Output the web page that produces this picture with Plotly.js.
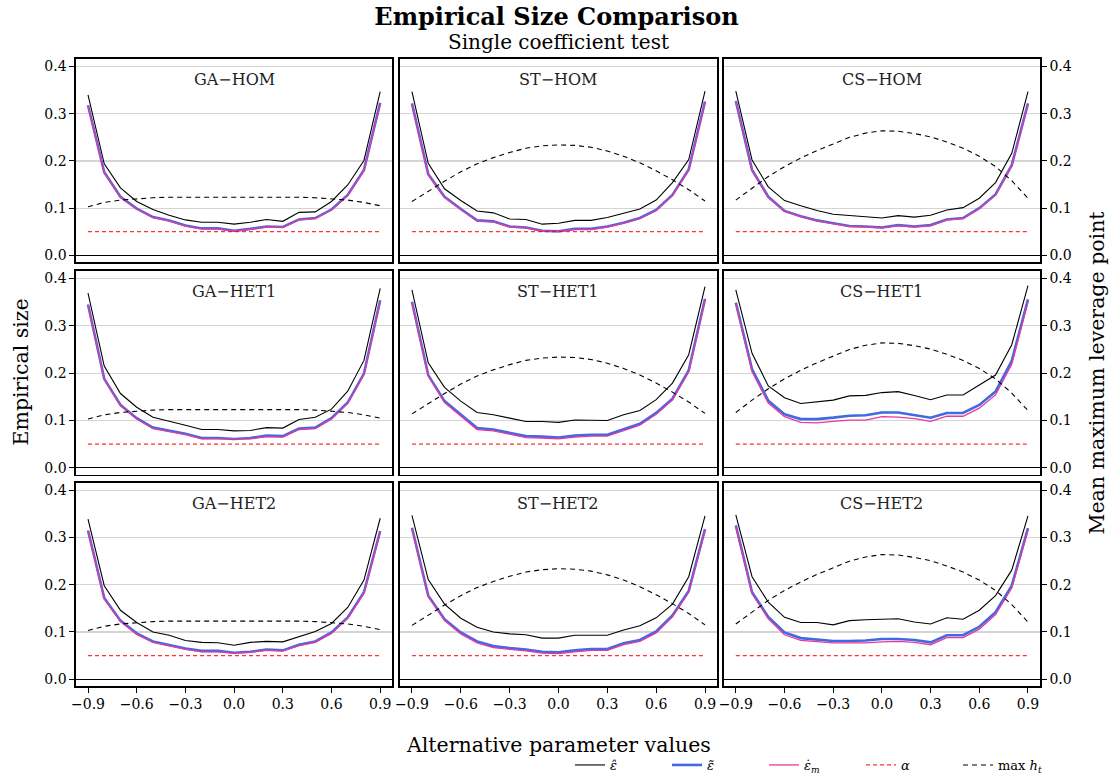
<!DOCTYPE html>
<html>
<head>
<meta charset="utf-8">
<script src="https://cdn.plot.ly/plotly-3.0.1.min.js"></script>
<style>html,body{margin:0;padding:0;background:#fff;}#chart{width:1113px;height:778px;}</style>
</head>
<body>
<div id="chart"></div>
<script>
// ---- data ----
const xVals = [-0.9,-0.8,-0.7,-0.6,-0.5,-0.4,-0.3,-0.2,-0.1,0.0,0.1,0.2,0.3,0.4,0.5,0.6,0.7,0.8,0.9];
const panelNames = ["GA\u2212HOM","ST\u2212HOM","CS\u2212HOM","GA\u2212HET1","ST\u2212HET1","CS\u2212HET1","GA\u2212HET2","ST\u2212HET2","CS\u2212HET2"];
const yTicks = [0.0,0.1,0.2,0.3,0.4];
const xTicks = [-0.9,-0.6,-0.3,0.0,0.3,0.6,0.9];
const alphaLevel = [0.05,0.05,0.05,0.05,0.05,0.05,0.05,0.05,0.05,0.05,0.05,0.05,0.05,0.05,0.05,0.05,0.05,0.05,0.05];

// max leverage (dashed black) per distribution
const maxh_GA = [0.103,0.112,0.117,0.120,0.122,0.123,0.123,0.124,0.124,0.124,0.124,0.124,0.123,0.123,0.122,0.120,0.117,0.112,0.105];
const maxh_ST = [0.114,0.136,0.157,0.177,0.194,0.207,0.218,0.227,0.232,0.234,0.233,0.229,0.221,0.210,0.196,0.179,0.160,0.139,0.115];
const maxh_CS = [0.117,0.143,0.167,0.188,0.206,0.222,0.236,0.250,0.259,0.264,0.263,0.258,0.251,0.240,0.227,0.210,0.188,0.158,0.121];

// eps hat (black solid)
const GA_HOM_hat  = [0.340,0.194,0.143,0.114,0.097,0.085,0.075,0.070,0.070,0.066,0.070,0.076,0.072,0.091,0.092,0.114,0.149,0.201,0.347];
const ST_HOM_hat  = [0.347,0.195,0.141,0.116,0.094,0.090,0.077,0.076,0.066,0.068,0.074,0.074,0.080,0.089,0.098,0.117,0.154,0.203,0.348];
const CS_HOM_hat  = [0.348,0.202,0.145,0.116,0.105,0.095,0.087,0.084,0.082,0.079,0.084,0.081,0.085,0.096,0.101,0.121,0.154,0.216,0.347];
const GA_HET1_hat = [0.369,0.215,0.157,0.128,0.107,0.099,0.090,0.081,0.081,0.078,0.079,0.085,0.084,0.102,0.107,0.124,0.162,0.227,0.379];
const ST_HET1_hat = [0.376,0.222,0.170,0.141,0.117,0.112,0.105,0.098,0.098,0.096,0.101,0.101,0.100,0.112,0.121,0.144,0.179,0.239,0.383];
const CS_HET1_hat = [0.376,0.242,0.173,0.148,0.136,0.140,0.143,0.152,0.153,0.159,0.161,0.153,0.144,0.154,0.154,0.175,0.196,0.260,0.385];
const GA_HET2_hat = [0.339,0.198,0.146,0.120,0.100,0.093,0.082,0.078,0.077,0.072,0.078,0.080,0.079,0.090,0.101,0.118,0.152,0.210,0.341];
const ST_HET2_hat = [0.347,0.211,0.159,0.129,0.110,0.100,0.096,0.094,0.087,0.087,0.093,0.093,0.093,0.104,0.113,0.130,0.159,0.217,0.346];
const CS_HET2_hat = [0.348,0.217,0.163,0.131,0.120,0.120,0.115,0.124,0.126,0.127,0.128,0.121,0.117,0.130,0.127,0.146,0.177,0.231,0.346];

// eps tilde (blue thick)
const GA_HOM_tilde  = [0.318,0.176,0.124,0.099,0.081,0.074,0.063,0.057,0.057,0.052,0.056,0.061,0.060,0.076,0.079,0.097,0.128,0.181,0.323];
const ST_HOM_tilde  = [0.322,0.172,0.124,0.098,0.074,0.072,0.061,0.059,0.052,0.051,0.056,0.056,0.061,0.069,0.079,0.096,0.128,0.182,0.326];
const CS_HOM_tilde  = [0.327,0.181,0.124,0.094,0.083,0.074,0.068,0.062,0.061,0.059,0.064,0.061,0.064,0.076,0.079,0.100,0.129,0.191,0.322];
const GA_HET1_tilde = [0.345,0.188,0.133,0.105,0.085,0.078,0.072,0.063,0.063,0.061,0.063,0.068,0.067,0.083,0.085,0.105,0.138,0.199,0.354];
const ST_HET1_tilde = [0.351,0.196,0.141,0.113,0.084,0.081,0.074,0.067,0.066,0.064,0.068,0.070,0.070,0.081,0.093,0.116,0.146,0.206,0.357];
const CS_HET1_tilde = [0.349,0.208,0.142,0.113,0.103,0.103,0.106,0.110,0.111,0.117,0.117,0.111,0.106,0.116,0.116,0.133,0.161,0.226,0.356];
const GA_HET2_tilde = [0.315,0.172,0.124,0.097,0.080,0.073,0.065,0.060,0.060,0.056,0.058,0.063,0.061,0.073,0.080,0.099,0.131,0.184,0.314];
const ST_HET2_tilde = [0.321,0.177,0.127,0.099,0.080,0.070,0.066,0.063,0.058,0.057,0.061,0.064,0.064,0.076,0.083,0.101,0.135,0.187,0.318];
const CS_HET2_tilde = [0.326,0.184,0.132,0.099,0.087,0.084,0.081,0.081,0.082,0.085,0.085,0.083,0.078,0.093,0.093,0.111,0.142,0.198,0.320];

// eps dot m (pink)
const GA_HOM_dot  = [0.317,0.175,0.123,0.098,0.080,0.073,0.062,0.056,0.056,0.051,0.055,0.060,0.059,0.075,0.078,0.096,0.127,0.180,0.321];
const ST_HOM_dot  = [0.320,0.171,0.123,0.097,0.073,0.071,0.060,0.058,0.051,0.050,0.055,0.055,0.060,0.068,0.078,0.095,0.127,0.181,0.324];
const CS_HOM_dot  = [0.325,0.180,0.123,0.093,0.082,0.073,0.067,0.061,0.060,0.058,0.063,0.060,0.063,0.075,0.078,0.099,0.128,0.190,0.320];
const GA_HET1_dot = [0.343,0.187,0.131,0.103,0.083,0.076,0.070,0.061,0.061,0.060,0.061,0.066,0.065,0.081,0.083,0.103,0.136,0.197,0.351];
const ST_HET1_dot = [0.349,0.194,0.138,0.110,0.081,0.078,0.071,0.064,0.063,0.061,0.065,0.067,0.067,0.078,0.090,0.113,0.143,0.203,0.355];
const CS_HET1_dot = [0.347,0.203,0.137,0.108,0.096,0.095,0.098,0.101,0.101,0.108,0.107,0.104,0.098,0.109,0.109,0.126,0.154,0.219,0.351];
const GA_HET2_dot = [0.313,0.170,0.122,0.095,0.078,0.071,0.063,0.058,0.058,0.055,0.057,0.061,0.060,0.071,0.078,0.097,0.129,0.182,0.312];
const ST_HET2_dot = [0.319,0.175,0.124,0.096,0.077,0.067,0.063,0.060,0.055,0.054,0.058,0.061,0.061,0.073,0.080,0.098,0.132,0.184,0.316];
const CS_HET2_dot = [0.324,0.181,0.128,0.094,0.082,0.079,0.077,0.077,0.077,0.079,0.080,0.078,0.073,0.088,0.088,0.106,0.137,0.193,0.316];

const hatSeries   = [GA_HOM_hat, ST_HOM_hat, CS_HOM_hat, GA_HET1_hat, ST_HET1_hat, CS_HET1_hat, GA_HET2_hat, ST_HET2_hat, CS_HET2_hat];
const tildeSeries = [GA_HOM_tilde, ST_HOM_tilde, CS_HOM_tilde, GA_HET1_tilde, ST_HET1_tilde, CS_HET1_tilde, GA_HET2_tilde, ST_HET2_tilde, CS_HET2_tilde];
const dotSeries   = [GA_HOM_dot, ST_HOM_dot, CS_HOM_dot, GA_HET1_dot, ST_HET1_dot, CS_HET1_dot, GA_HET2_dot, ST_HET2_dot, CS_HET2_dot];
const maxhSeries  = [maxh_GA, maxh_ST, maxh_CS, maxh_GA, maxh_ST, maxh_CS, maxh_GA, maxh_ST, maxh_CS];

// ---- layout/styling ----
const FONT = "DejaVu Serif, Liberation Serif, serif";
const colDomains = [[0, 0.328], [0.336, 0.665], [0.672, 1.0]];
const rowDomains = [[0.676, 1.0], [0.337, 0.662], [0, 0.324]];

const traces = [];
const layout = {
  width: 1113, height: 778,
  margin: {l: 76, r: 73, t: 59, b: 92, autoexpand: false},
  paper_bgcolor: "#fff", plot_bgcolor: "#fff",
  font: {family: FONT, color: "#000", size: 14},
  showlegend: true,
  title: {
    text: "<b>Empirical Size Comparison</b>",
    font: {family: FONT, size: 24, color: "#000"},
    x: 0.5, xref: "container", xanchor: "center",
    y: 1 - 17/778, yref: "container", yanchor: "middle"
  },
  legend: {
    orientation: "h", x: (570 - 76) / 964, xanchor: "left", y: (686 - 765) / 627, yanchor: "middle",
    font: {family: FONT, size: 13}, bgcolor: "rgba(0,0,0,0)",
    entrywidth: 52, entrywidthmode: "pixels", tracegroupgap: 0
  },
  annotations: [],
  shapes: []
};

for (let i = 0; i < 9; i++) {
  const r = Math.floor(i / 3), c = i % 3;
  const xa = "x" + (i + 1), ya = "y" + (i + 1);
  const xkey = "xaxis" + (i === 0 ? "" : i + 1), ykey = "yaxis" + (i === 0 ? "" : i + 1);
  const first = i === 0;
  traces.push({x: xVals, y: hatSeries[i], xaxis: xa, yaxis: ya, type: "scatter", mode: "lines",
    name: "<i>\u03b5\u0302</i>", legendrank: 1, showlegend: first, line: {color: "#000", width: 1.1}, hoverinfo: "skip"});
  traces.push({x: xVals, y: tildeSeries[i], xaxis: xa, yaxis: ya, type: "scatter", mode: "lines",
    name: "<i>\u03b5\u0303</i>", legendrank: 2, showlegend: first, line: {color: "#4169e1", width: 2.6}, hoverinfo: "skip"});
  traces.push({x: xVals, y: dotSeries[i], xaxis: xa, yaxis: ya, type: "scatter", mode: "lines",
    name: "<i>\u03b5\u0307</i><sub><i>m</i></sub>", legendrank: 3, showlegend: first, line: {color: "#e8389f", width: 1.3}, hoverinfo: "skip"});
  traces.push({x: xVals, y: alphaLevel, xaxis: xa, yaxis: ya, type: "scatter", mode: "lines",
    name: "<i>\u03b1</i>", legendrank: 4, showlegend: first, line: {color: "rgba(255,0,0,0.8)", width: 1.2, dash: "4px,3px"}, hoverinfo: "skip"});
  traces.push({x: xVals, y: maxhSeries[i], xaxis: xa, yaxis: ya, type: "scatter", mode: "lines",
    name: "max <i>h</i><sub><i>t</i></sub>", legendrank: 5, showlegend: first, line: {color: "#000", width: 1.1, dash: "5px,4px"}, hoverinfo: "skip"});

  layout[xkey] = {
    domain: colDomains[c], anchor: ya, range: [-0.974, 0.974],
    tickvals: xTicks, tickformat: ".1f",
    showticklabels: r === 2, ticks: r === 2 ? "outside" : "", ticklen: 5, tickwidth: 1, tickcolor: "#000",
    tickfont: {family: FONT, size: 14},
    showgrid: false, zeroline: false,
    showline: true, mirror: true, linecolor: "#000", linewidth: 1.6
  };
  layout[ykey] = {
    domain: rowDomains[r], anchor: xa, range: [-0.0145, 0.416],
    tickvals: yTicks, tickformat: ".1f",
    side: c === 2 ? "right" : "left",
    showticklabels: c !== 1, ticks: c !== 1 ? "outside" : "", ticklen: 5, tickwidth: 1, tickcolor: "#000",
    tickfont: {family: FONT, size: 14},
    showgrid: true, gridcolor: "#d4d4d4", gridwidth: 1.2,
    zeroline: true, zerolinecolor: "#000", zerolinewidth: 1.3,
    showline: true, mirror: true, linecolor: "#000", linewidth: 1.6
  };
  layout.annotations.push({
    text: panelNames[i], xref: xa + " domain", yref: ya + " domain",
    x: 0.5, y: 0.897, xanchor: "center", yanchor: "middle", showarrow: false,
    font: {family: FONT, size: 16, color: "#222"}
  });
}

layout.annotations.push({
  text: "Single coefficient test", xref: "paper", yref: "paper",
  x: 0.5, y: (686 - 42) / 627, xanchor: "center", yanchor: "middle", showarrow: false,
  font: {family: FONT, size: 20, color: "#000"}
});
layout.annotations.push({
  text: "Alternative parameter values", xref: "paper", yref: "paper",
  x: 0.5, y: (686 - 745) / 627, xanchor: "center", yanchor: "middle", showarrow: false,
  font: {family: FONT, size: 20.5, color: "#000"}
});
layout.annotations.push({
  text: "Empirical size", xref: "paper", yref: "paper",
  x: (20 - 76) / 964, y: 0.5, xanchor: "center", yanchor: "middle", showarrow: false, textangle: -90,
  font: {family: FONT, size: 20.5, color: "#000"}
});
layout.annotations.push({
  text: "Mean maximum leverage point", xref: "paper", yref: "paper",
  x: (1096 - 76) / 964, y: 0.5, xanchor: "center", yanchor: "middle", showarrow: false, textangle: -90,
  font: {family: FONT, size: 20.5, color: "#000"}
});

Plotly.newPlot("chart", traces, layout, {displayModeBar: false, staticPlot: true});
</script>
</body>
</html>
